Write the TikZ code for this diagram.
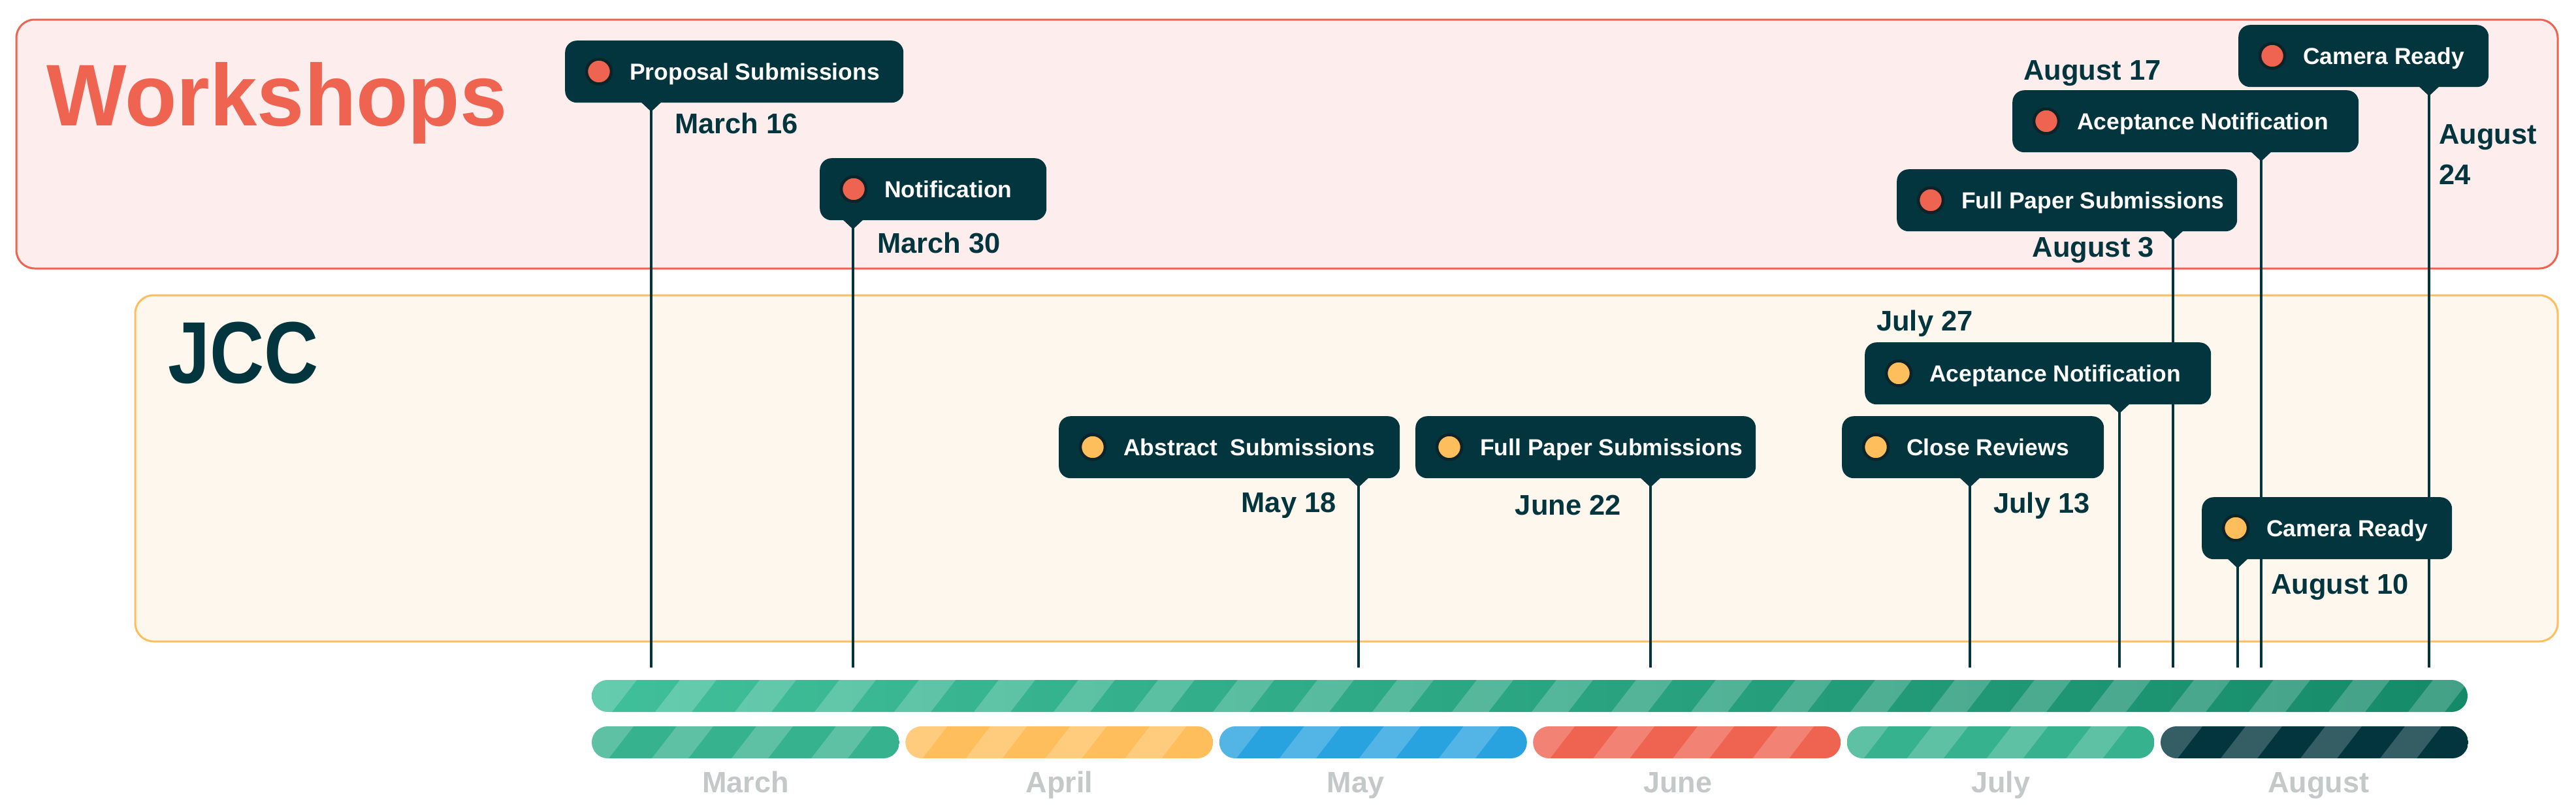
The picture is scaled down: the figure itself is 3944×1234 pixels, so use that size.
\documentclass[tikz,border=0pt]{standalone}
\usepackage{fontspec}
\setmainfont{Liberation Sans}
\definecolor{teal9}{HTML}{03353E}
\definecolor{salmon}{HTML}{EF6351}
\definecolor{gold}{HTML}{FFBE5C}
\definecolor{skyblue}{HTML}{29A3E0}
\definecolor{mint}{HTML}{36B28E}
\definecolor{ring}{HTML}{0C2327}
\definecolor{monthgray}{HTML}{C4C8C9}
\definecolor{barL}{HTML}{40C09A}
\definecolor{barR}{HTML}{158A69}
\definecolor{wsfill}{HTML}{FDEEED}
\definecolor{jccfill}{HTML}{FEF7EE}
\begin{document}
\begin{tikzpicture}[x=1pt,y=-1pt,
  callout/.style={fill=teal9, rounded corners=18pt, minimum height=95pt, inner sep=0pt, anchor=north west},
  wdot/.style={circle, fill=salmon, draw=ring, line width=4.5pt, minimum size=38pt, inner sep=0pt},
  jdot/.style={wdot, fill=gold},
  boxtext/.style={text=white, font=\fontsize{35.5}{40}\selectfont\bfseries, inner sep=0pt, anchor=base west},
  datelabel/.style={text=teal9, font=\fontsize{43.5}{62}\selectfont\bfseries, inner sep=0pt, align=left},
  monthlabel/.style={text=monthgray, font=\fontsize{45}{50}\selectfont\bfseries, inner sep=0pt, anchor=base},
  stem/.style={draw=teal9, line width=4pt},
  grouptitle/.style={font=\fontsize{134}{140}\selectfont\bfseries, inner sep=0pt, anchor=base west},
]
\useasboundingbox (0,0) rectangle (3944,1234);
\fill[white] (0,0) rectangle (3944,1234);

% group frames
\draw[draw=salmon, fill=wsfill, line width=3pt, rounded corners=28pt] (25,30) rectangle (3916,411);
\draw[draw=gold, fill=jccfill, line width=3pt, rounded corners=28pt] (207,452) rectangle (3916,982);
\node[grouptitle, text=salmon] (wtitle) at (71,192) {\scalebox{0.97}[1]{Workshops}};
\node[grouptitle, text=teal9] (jtitle) at (257,586) {\scalebox{0.86}[1]{JCC}};

% main timeline bar
\begin{scope}
  \clip[rounded corners=24.5pt] (906,1041) rectangle (3778,1090);
  \shade[left color=barL, right color=barR] (906,1041) rectangle (3778,1090);
  \foreach \k in {-1,...,24}
    \fill[white, opacity=0.2] ({1003+122*\k},1090) -- ({1059+122*\k},1090) -- ({1097+122*\k},1041) -- ({1041+122*\k},1041) -- cycle;
\end{scope}
\coordinate (timeline) at (906,1041);

% month bars
\foreach \i/\c/\m/\off in {0/mint/March/0,1/gold/April/0,2/skyblue/May/-27,3/salmon/June/-14,4/mint/July/0,5/teal9/August/6}{
  \pgfmathsetmacro{\xl}{906+480.4*\i}
  \pgfmathsetmacro{\xr}{\xl+471}
  \begin{scope}
    \clip[rounded corners=24.5pt] (\xl,1112) rectangle (\xr,1161);
    \fill[\c] (\xl,1112) rectangle (\xr,1161);
    \foreach \k in {-1,...,4}
      \fill[white, opacity=0.2] ({\xl+92+122*\k},1161) -- ({\xl+148+122*\k},1161) -- ({\xl+186+122*\k},1112) -- ({\xl+130+122*\k},1112) -- cycle;
  \end{scope}
  \node[monthlabel] (month-\m) at ({\xl+235.5+\off},1213) {\m};
}

% callout data: name/L/T/R/P/dot/text
\def\calloutlist{w1/865/62/1383/997/wdot/Proposal Submissions,
  w2/1255/242/1602/1306/wdot/Notification,
  w3/2904/259/3425/3327/wdot/Full Paper Submissions,
  w4/3081/138/3611/3462/wdot/Aceptance Notification,
  w5/3427/38/3810/3719/wdot/Camera Ready,
  j1/1621/637/2143/2080/jdot/Abstract\ \ Submissions,
  j2/2167/637/2688/2527/jdot/Full Paper Submissions,
  j3/2820/637/3221/3016/jdot/Close Reviews,
  j4/2855/524/3385/3245/jdot/Aceptance Notification,
  j5/3371/761/3754/3426/jdot/Camera Ready}

% stems first
\foreach \n/\L/\T/\R/\P/\d/\t in \calloutlist {
  \coordinate (tip-\n) at (\P,{\T+105});
  \coordinate (end-\n) at (\P,1022);
  \draw[stem] (tip-\n) -- (end-\n);
}
% boxes on top
\foreach \n/\L/\T/\R/\P/\d/\t in \calloutlist {
  \node[callout, minimum width={\R-\L}] (box-\n) at (\L,\T) {};
  \fill[teal9] ({\P-17},{\T+93}) -- ({\P+17},{\T+93}) -- (\P,{\T+109}) -- cycle;
  \node[\d] (dot-\n) at ({\L+52},{\T+47.5}) {};
  \node[boxtext] (txt-\n) at ({\L+99},{\T+60}) {\t};
}

% date labels
\foreach \n/\a/\x/\y/\t in {w1/base west/1033/204/March 16,
  w2/base west/1343/387/March 30,
  w3/base east/3298/393/August 3,
  w4/base west/3098/122/August 17,
  j1/base east/2046/784/May 18,
  j2/base east/2482/788/June 22,
  j3/base west/3052/785/July 13,
  j4/base west/2873/506/July 27,
  j5/base west/3477/909/August 10}{
  \node[datelabel, anchor=\a] (date-\n) at (\x,\y) {\t};
}
\node[datelabel, anchor=north west] (date-w5) at (3734,190) {August\\24};
\end{tikzpicture}
\end{document}
